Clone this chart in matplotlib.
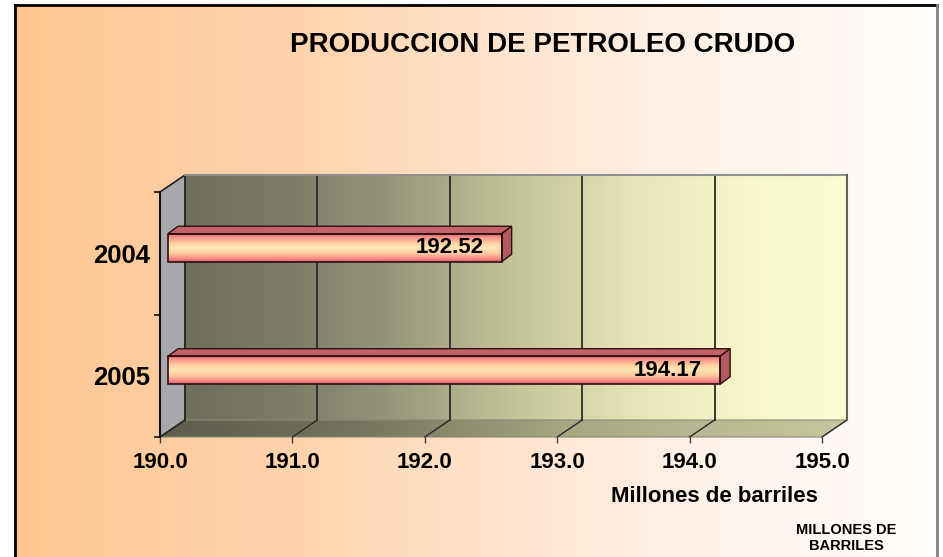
import numpy as np
import matplotlib
matplotlib.use('Agg')
import matplotlib.pyplot as plt
from matplotlib.patches import Polygon, Rectangle
from matplotlib.colors import LinearSegmentedColormap

# ---------------- data ----------------
years = ['2005', '2004']
values = [194.17, 192.52]
value_labels = ['194.17', '192.52']
xticks = [190.0, 191.0, 192.0, 193.0, 194.0, 195.0]
xtick_labels = ['190.0', '191.0', '192.0', '193.0', '194.0', '195.0']
title = 'PRODUCCION DE PETROLEO CRUDO'
xlabel = 'Millones de barriles'
note = 'MILLONES DE\nBARRILES'

plt.rcParams['font.family'] = ['Liberation Sans', 'DejaVu Sans']

W, H = 943, 557
fig = plt.figure(figsize=(W / 100, H / 100), dpi=100)

# ---------------- figure background ----------------
bg = fig.add_axes([0, 0, 1, 1])
bg.set_xlim(0, W)
bg.set_ylim(H, 0)
bg.axis('off')
bg_cmap = LinearSegmentedColormap.from_list(
    'bg', [(0, '#ffc692'), (0.3, '#ffd3ac'), (0.55, '#ffe5d0'),
           (0.78, '#fff4ec'), (1.0, '#fffdfb')])
bg.imshow(np.linspace(0, 1, 512)[None, :], extent=(15, 937, H, 5),
          aspect='auto', cmap=bg_cmap, zorder=0)
bg.plot([15, 15], [H, 5], color='black', lw=2, zorder=1)
bg.plot([15, 937], [5, 5], color='black', lw=2, zorder=1)
bg.plot([937, 937], [5, H], color='#808080', lw=2, zorder=1)
bg.set_xlim(0, W)
bg.set_ylim(H, 0)

# ---------------- main axes ----------------
L, B, AW, AH = 160, 120, 662, 245
ax = fig.add_axes([L / W, B / H, AW / W, AH / H])
ax.patch.set_visible(False)
xmin, xmax = 190.0, 195.0
ymin, ymax = -0.5, 1.5
ppx = AW / (xmax - xmin)
ppy = AH / (ymax - ymin)
DX, DY = 25 / ppx, 17 / ppy

# back wall
wall_cmap = LinearSegmentedColormap.from_list(
    'wall', [(0, '#6e6e5a'), (0.15, '#7c7c66'), (0.3, '#94947a'),
             (0.5, '#c4c49a'), (0.7, '#e8e8ba'), (0.85, '#f6f6ca'),
             (1.0, '#fdfdd6')])
im = ax.imshow(np.linspace(0, 1, 256)[None, :],
               extent=(xmin + DX, xmax + DX, ymin + DY, ymax + DY),
               aspect='auto', cmap=wall_cmap, zorder=1)
im.set_clip_on(False)

# floor
floor_cmap = LinearSegmentedColormap.from_list(
    'floor', [(0, '#5c5c4a'), (0.3, '#76765e'), (0.6, '#a8a884'),
              (1.0, '#c8c8a0')])
floor = Polygon([(xmin, ymin), (xmax, ymin), (xmax + DX, ymin + DY),
                 (xmin + DX, ymin + DY)], closed=True, facecolor='none',
                edgecolor='#8a8a78', lw=0.8, zorder=2, clip_on=False)
ax.add_patch(floor)
imf = ax.imshow(np.linspace(0, 1, 256)[None, :],
                extent=(xmin, xmax + DX, ymin, ymin + DY),
                aspect='auto', cmap=floor_cmap, zorder=1.5)
imf.set_clip_path(floor)
imf.set_clip_box(fig.bbox)

# side wall
side = Polygon([(xmin, ymin), (xmin + DX, ymin + DY), (xmin + DX, ymax + DY),
                (xmin, ymax)], closed=True, facecolor='#a9a9ad',
               edgecolor='#202020', lw=1.2, zorder=2, clip_on=False)
ax.add_patch(side)

# gridlines on back wall and floor
for t in xticks:
    ax.plot([t + DX, t + DX], [ymin + DY, ymax + DY], color='#2a2a2a',
            lw=1.3, zorder=2, clip_on=False)
    ax.plot([t, t + DX], [ymin, ymin + DY], color='#2a2a2a', lw=1.0,
            zorder=2, clip_on=False)
ax.plot([xmin + DX, xmax + DX], [ymax + DY, ymax + DY], color='#909090',
        lw=1.5, zorder=2, clip_on=False)
ax.plot([xmax + DX, xmax + DX], [ymin + DY, ymax + DY], color='#606060',
        lw=1.5, zorder=2, clip_on=False)

# ---------------- bars ----------------
bar_cmap = LinearSegmentedColormap.from_list(
    'bar', [(0, '#e46470'), (0.12, '#f8958c'), (0.35, '#ffd6a4'),
            (0.5, '#ffe6b4'), (0.7, '#ffc8a0'), (0.88, '#f88c88'),
            (1.0, '#e05c6c')])
fx, fy = 8 / ppx, 5.5 / ppy
bx, by = 10 / ppx, 7.5 / ppy
bh = 28 / ppy
for i, (v, lab) in enumerate(zip(values, value_labels)):
    x0, x1 = xmin + fx, v + fx
    y0, y1 = i - bh / 2 + fy, i + bh / 2 + fy
    front = Rectangle((x0, y0), x1 - x0, y1 - y0, facecolor='none',
                      edgecolor='#2a1010', lw=1.2, zorder=5, clip_on=False)
    ax.add_patch(front)
    imb = ax.imshow(np.linspace(0, 1, 128)[:, None],
                    extent=(x0, x1, y0, y1), aspect='auto', cmap=bar_cmap,
                    zorder=4)
    imb.set_clip_on(False)
    top = Polygon([(x0, y1), (x1, y1), (x1 + bx, y1 + by), (x0 + bx, y1 + by)],
                  closed=True, facecolor='#c4626a', edgecolor='#2a1010',
                  lw=1.0, zorder=4, clip_on=False)
    ax.add_patch(top)
    right = Polygon([(x1, y0), (x1 + bx, y0 + by), (x1 + bx, y1 + by),
                     (x1, y1)], closed=True, facecolor='#b45a60',
                    edgecolor='#2a1010', lw=1.0, zorder=4, clip_on=False)
    ax.add_patch(right)
    ax.text(x1 - 18 / ppx, i + fy, lab, ha='right', va='center',
            fontsize=16, fontweight='bold', color='black', zorder=6)

# ---------------- axes styling ----------------
ax.set_xlim(xmin, xmax)
ax.set_ylim(ymin, ymax)
for s in ['top', 'right', 'bottom']:
    ax.spines[s].set_visible(False)
ax.spines['left'].set_color('#101010')
ax.spines['left'].set_linewidth(1.5)
ax.spines['left'].set_zorder(3)

ax.set_xticks(xticks)
ax.set_xticklabels(xtick_labels, fontsize=16, fontweight='bold')
ax.tick_params(axis='x', direction='out', length=4.5, width=1,
               color='#404040', pad=6)

ax.set_yticks([-0.5, 0.5, 1.5])
ax.set_yticklabels(['', '', ''])
ax.set_yticks([0, 1], minor=True)
ax.set_yticklabels(years, minor=True, fontsize=18.5, fontweight='bold')
ax.tick_params(axis='y', which='major', direction='out', length=4,
               width=1.2, color='#101010')
ax.tick_params(axis='y', which='minor', length=0, pad=7)

ax.set_xlabel(xlabel, fontsize=16, fontweight='bold')
ax.xaxis.set_label_coords((714 - L) / AW, (H - 497 - B) / AH)
ax.xaxis.label.set_va('center')

fig.text(543 / W, 1 - 45 / H, title, ha='center', va='center',
         fontsize=20, fontweight='bold')
fig.text(846 / W, 1 - 538 / H, note, ha='center', va='center',
         fontsize=10.5, fontweight='bold', linespacing=1.25)

fig.savefig('out.png', dpi=100)
